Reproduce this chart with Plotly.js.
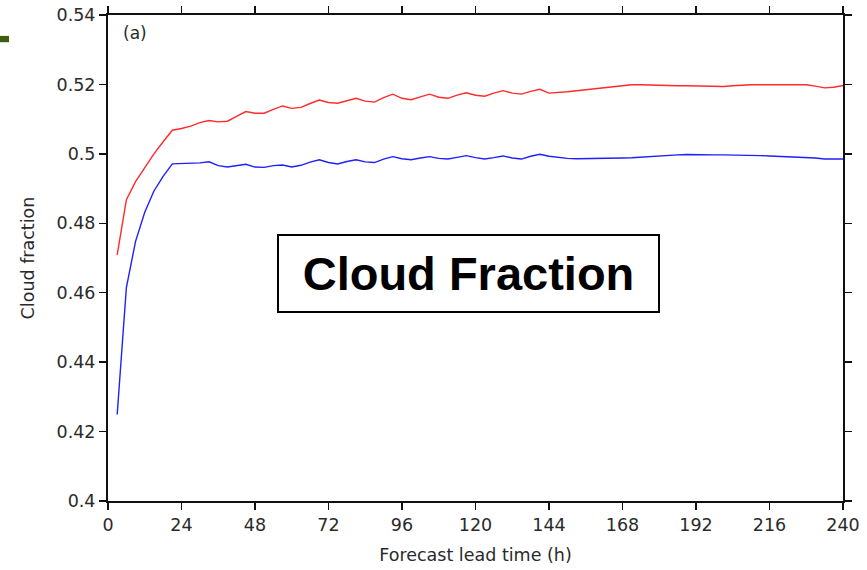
<!DOCTYPE html>
<html>
<head>
<meta charset="utf-8">
<script src="https://cdn.plot.ly/plotly-3.0.1.min.js"></script>
<style>html,body{margin:0;padding:0;background:#fff;}#chart{width:867px;height:570px;}</style>
</head>
<body>
<div id="chart"></div>
<script>
// Forecast lead time (h), 3-hourly
const leadTime = [3,6,9,12,15,18,21,24,27,30,33,36,39,42,45,48,51,54,57,60,63,66,69,72,75,78,81,84,87,90,93,96,99,102,105,108,111,114,117,120,123,126,129,132,135,138,141,144,147,150,153,156,159,162,165,168,171,174,177,180,183,186,189,192,195,198,201,204,207,210,213,216,219,222,225,228,231,234,237,240];
const redSeries = [0.4709,0.4868,0.4920,0.4960,0.5000,0.5035,0.5068,0.5073,0.5080,0.5090,0.5096,0.5092,0.5094,0.5108,0.5122,0.5117,0.5117,0.5128,0.5138,0.5131,0.5134,0.5145,0.5155,0.5148,0.5146,0.5153,0.5160,0.5152,0.5149,0.5162,0.5172,0.5160,0.5156,0.5164,0.5172,0.5163,0.5160,0.5169,0.5176,0.5169,0.5166,0.5175,0.5182,0.5175,0.5172,0.5180,0.5186,0.5175,0.5176,0.5179,0.5182,0.5185,0.5189,0.5192,0.5195,0.5197,0.5199,0.5199,0.5198,0.5197,0.5195,0.5196,0.5196,0.5195,0.5194,0.5193,0.5194,0.5196,0.5198,0.5199,0.5199,0.5199,0.5199,0.5199,0.5199,0.5199,0.5195,0.5190,0.5192,0.5197];
const blueSeries = [0.4249,0.4615,0.4748,0.4832,0.4893,0.4935,0.4971,0.4972,0.4972,0.4974,0.4977,0.4966,0.4962,0.4966,0.4970,0.4962,0.4961,0.4966,0.4968,0.4962,0.4967,0.4976,0.4983,0.4975,0.4971,0.4978,0.4983,0.4977,0.4975,0.4985,0.4992,0.4986,0.4983,0.4988,0.4992,0.4987,0.4985,0.4990,0.4995,0.4989,0.4985,0.4989,0.4994,0.4988,0.4985,0.4993,0.4999,0.4993,0.4989,0.4987,0.4986,0.4986,0.4986,0.4987,0.4988,0.4988,0.4989,0.4991,0.4993,0.4994,0.4995,0.4997,0.4998,0.4997,0.4997,0.4997,0.4997,0.4997,0.4996,0.4995,0.4995,0.4994,0.4993,0.4992,0.4990,0.4989,0.4988,0.4985,0.4985,0.4985];
const xTicks = [0,24,48,72,96,120,144,168,192,216,240];
const yTicks = [0.4,0.42,0.44,0.46,0.48,0.5,0.52,0.54];
const yTickText = ['0.4','0.42','0.44','0.46','0.48','0.5','0.52','0.54'];

const smallFont = 'DejaVu Sans, Liberation Sans, sans-serif';
const tickFont = {family: smallFont, size: 17.5, color: '#2a2a2a'};

const traces = [
  {x: leadTime, y: redSeries, type: 'scatter', mode: 'lines', line: {color: '#ff2a2a', width: 1.4}, name: 'red'},
  {x: leadTime, y: blueSeries, type: 'scatter', mode: 'lines', line: {color: '#1f1fff', width: 1.4}, name: 'blue'}
];

const layout = {
  width: 867, height: 570,
  margin: {l: 108, r: 24, t: 15, b: 69},
  paper_bgcolor: '#fff', plot_bgcolor: '#fff',
  showlegend: false,
  xaxis: {
    range: [0, 240], tickvals: xTicks, ticktext: xTicks.map(String),
    showgrid: false, zeroline: false,
    showline: true, linecolor: '#111', linewidth: 2, mirror: 'ticks',
    ticks: 'outside', ticklen: 7, tickwidth: 1.5, tickcolor: '#111',
    tickfont: tickFont,
    title: {text: 'Forecast lead time (h)', font: {family: smallFont, size: 17.5, color: '#2a2a2a'}, standoff: 15}
  },
  yaxis: {
    range: [0.4, 0.54], tickvals: yTicks, ticktext: yTickText,
    showgrid: false, zeroline: false,
    showline: true, linecolor: '#111', linewidth: 2, mirror: 'ticks',
    ticks: 'outside', ticklen: 7, tickwidth: 1.5, tickcolor: '#111',
    tickfont: tickFont,
    title: {text: 'Cloud fraction', font: {family: smallFont, size: 17.5, color: '#2a2a2a'}, standoff: 17}
  },
  annotations: [
    {xref: 'x', yref: 'y', x: 117.8, y: 0.4656, xanchor: 'center', yanchor: 'middle',
     text: '<b>Cloud Fraction</b>', showarrow: false,
     font: {family: 'Liberation Sans, Arial, sans-serif', size: 47, color: '#000'},
     bgcolor: '#fff', bordercolor: '#000', borderwidth: 2, width: 377, height: 73},
    {xref: 'paper', yref: 'paper', x: 0.018, y: 0.963, xanchor: 'left', yanchor: 'middle',
     text: '(a)', showarrow: false,
     font: {family: smallFont, size: 17, color: '#2a2a2a'}}
  ],
  shapes: [
    {type: 'rect', xref: 'paper', yref: 'paper', x0: -0.147, x1: -0.1347, y0: 0.944, y1: 0.957,
     fillcolor: '#3d5e12', line: {width: 0}, layer: 'above'}
  ]
};

Plotly.newPlot('chart', traces, layout, {displayModeBar: false, staticPlot: true});
</script>
</body>
</html>
